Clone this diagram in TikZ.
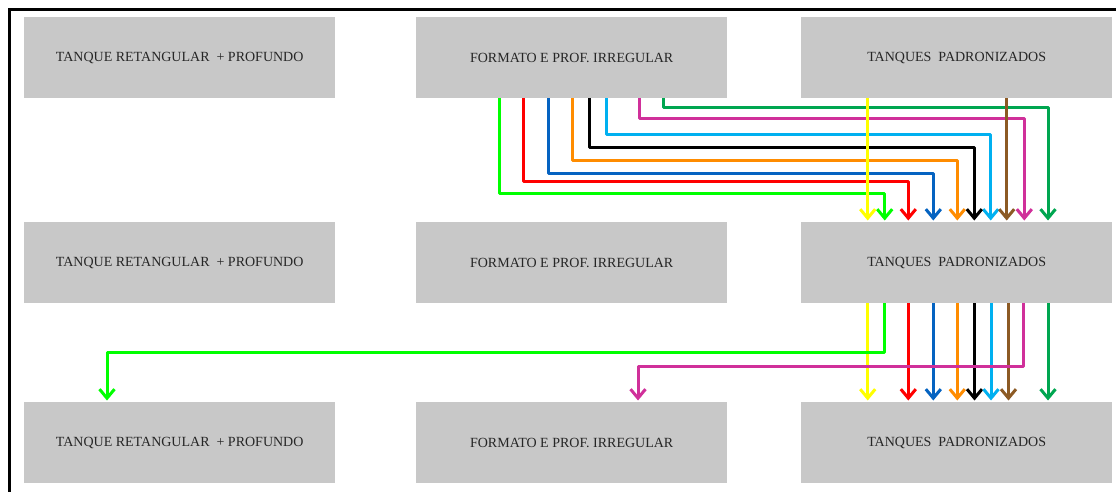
\documentclass[tikz,border=0pt]{standalone}
\usepackage{fontspec}
\setmainfont{Liberation Serif}
\usetikzlibrary{arrows.meta}
\definecolor{boxgray}{HTML}{C8C8C8}
\definecolor{clime}{HTML}{00FF00}
\definecolor{cred}{HTML}{FF0000}
\definecolor{cblue}{HTML}{0563C1}
\definecolor{corange}{HTML}{FF8C00}
\definecolor{cblack}{HTML}{000000}
\definecolor{clblue}{HTML}{00B0F0}
\definecolor{cmag}{HTML}{D0309A}
\definecolor{cdgreen}{HTML}{00A650}
\definecolor{cyellow}{HTML}{FFFF00}
\definecolor{cbrown}{HTML}{8C5A24}
\tikzset{
  tank/.style={fill=boxgray, draw=none, minimum width=311pt, minimum height=81pt,
    inner sep=0pt, font=\fontsize{14}{16}\selectfont, text=black!85, anchor=north west},
  flow/.style={line width=3pt, line join=round, shorten >=1.5pt,
    -{Straight Barb[length=9pt,width=15pt,line width=3pt]}},
  frame/.style={line width=3pt}
}
\begin{document}
\begin{tikzpicture}[x=1pt,y=-1pt]
\useasboundingbox (0,0) rectangle (1116,492);
\draw[frame] (9,492) -- (9,10) -- (1120,10);
% row 1
\node[tank] (r1c1) at (24,17) {TANQUE RETANGULAR \ + PROFUNDO};
\node[tank] (r1c2) at (416,17) {FORMATO E PROF. IRREGULAR};
\node[tank] (r1c3) at (801,17) {TANQUES \ PADRONIZADOS};
% row 2
\node[tank] (r2c1) at (24,222) {TANQUE RETANGULAR \ + PROFUNDO};
\node[tank] (r2c2) at (416,222) {FORMATO E PROF. IRREGULAR};
\node[tank] (r2c3) at (801,222) {TANQUES \ PADRONIZADOS};
% row 3
\node[tank] (r3c1) at (24,402) {TANQUE RETANGULAR \ + PROFUNDO};
\node[tank] (r3c2) at (416,402) {FORMATO E PROF. IRREGULAR};
\node[tank] (r3c3) at (801,402) {TANQUES \ PADRONIZADOS};
% row 1 -> row 2
\draw[flow,cdgreen] (663.3,0 |- r1c2.south) |- (1048,108) -- (1048,0 |- r2c3.north);
\draw[flow,cmag] (639.7,0 |- r1c2.south) |- (1024.3,118.3) -- (1024.3,0 |- r2c3.north);
\draw[flow,clblue] (606,0 |- r1c2.south) |- (990.7,135) -- (990.7,0 |- r2c3.north);
\draw[flow,cblack] (589.7,0 |- r1c2.south) |- (974.3,147.7) -- (974.3,0 |- r2c3.north);
\draw[flow,corange] (572.7,0 |- r1c2.south) |- (957.3,160.7) -- (957.3,0 |- r2c3.north);
\draw[flow,cblue] (548.7,0 |- r1c2.south) |- (933.3,173) -- (933.3,0 |- r2c3.north);
\draw[flow,cred] (523.7,0 |- r1c2.south) |- (908.3,181) -- (908.3,0 |- r2c3.north);
\draw[flow,clime] (499.3,0 |- r1c2.south) |- (884.7,193.7) -- (884.7,0 |- r2c3.north);
\draw[flow,cbrown] (1006.7,0 |- r1c3.south) -- (1006.7,0 |- r2c3.north);
\draw[flow,cyellow] (867.7,0 |- r1c3.south) -- (867.7,0 |- r2c3.north);
% row 2 -> row 3
\draw[flow,cyellow] (867.7,0 |- r2c3.south) -- (867.7,0 |- r3c3.north);
\draw[flow,clime] (884.7,0 |- r2c3.south) |- (107,352.5) -- (107,0 |- r3c1.north);
\draw[flow,cred] (908.3,0 |- r2c3.south) -- (908.3,0 |- r3c3.north);
\draw[flow,cblue] (933.3,0 |- r2c3.south) -- (933.3,0 |- r3c3.north);
\draw[flow,corange] (957.3,0 |- r2c3.south) -- (957.3,0 |- r3c3.north);
\draw[flow,cblack] (974.5,0 |- r2c3.south) -- (974.5,0 |- r3c3.north);
\draw[flow,clblue] (991,0 |- r2c3.south) -- (991,0 |- r3c3.north);
\draw[flow,cbrown] (1008.5,0 |- r2c3.south) -- (1008.5,0 |- r3c3.north);
\draw[flow,cmag] (1023.8,0 |- r2c3.south) |- (638,366.7) -- (638,0 |- r3c2.north);
\draw[flow,cdgreen] (1048,0 |- r2c3.south) -- (1048,0 |- r3c3.north);
\end{tikzpicture}
\end{document}
